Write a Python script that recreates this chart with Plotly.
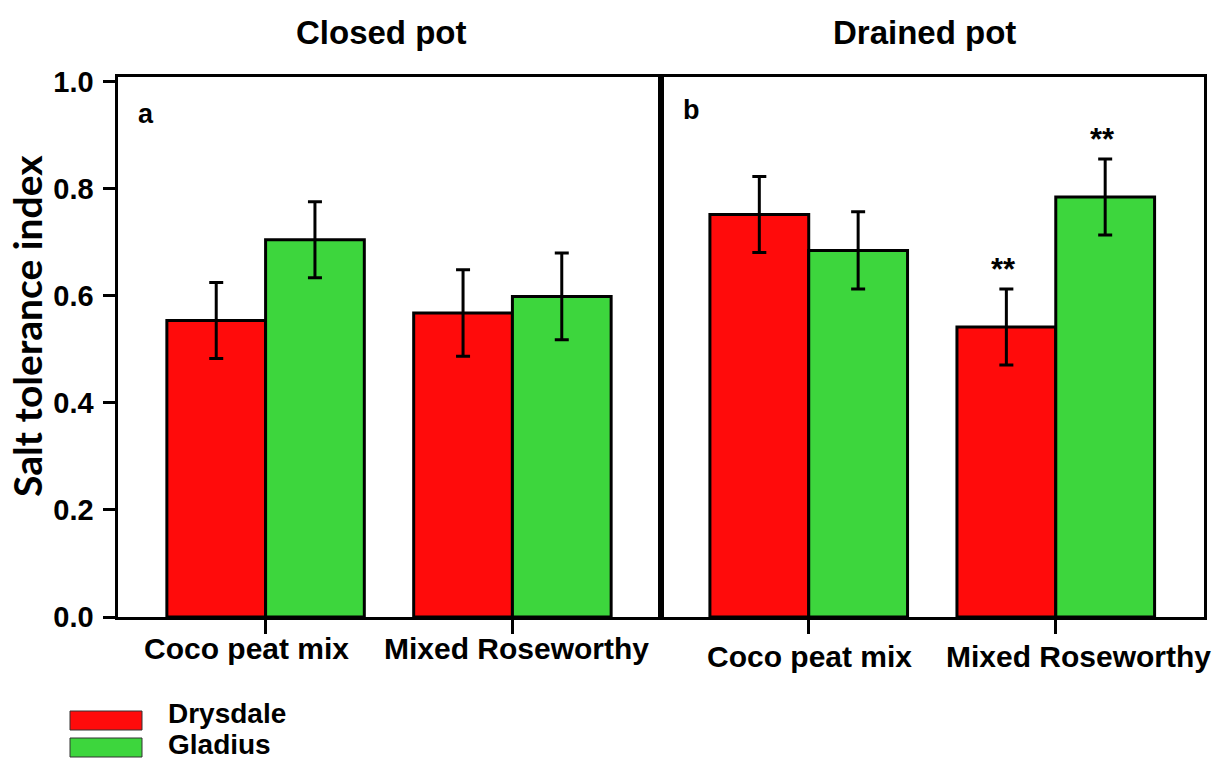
import plotly.graph_objects as go
from plotly.subplots import make_subplots

# Salt tolerance index per soil mix, wheat cultivar and pot type (mean ± SE)
categories = ["Coco peat mix", "Mixed Roseworthy"]
cultivars = ["Drysdale", "Gladius"]
colors = {"Drysdale": "#FF0B0B", "Gladius": "#3DD63D"}

closed_drysdale = [0.554, 0.568]
closed_drysdale_err = [0.071, 0.081]
closed_gladius = [0.705, 0.599]
closed_gladius_err = [0.071, 0.081]

drained_drysdale = [0.752, 0.542]
drained_drysdale_err = [0.071, 0.071]
drained_gladius = [0.685, 0.785]
drained_gladius_err = [0.072, 0.071]

drained_sig_drysdale = ["", "**"]
drained_sig_gladius = ["", "**"]

panel_titles = ["Closed pot", "Drained pot"]
panel_letters = ["a", "b"]
y_ticks = [0.0, 0.2, 0.4, 0.6, 0.8, 1.0]

W, H = 1214, 760
FONT = "Liberation Sans, Arial, sans-serif"


def px_x(p):
    return p / W


def px_y(p):
    return 1 - p / H


fig = make_subplots(rows=1, cols=2, shared_yaxes=True, horizontal_spacing=0)

panels = [
    (1, [(closed_drysdale, closed_drysdale_err), (closed_gladius, closed_gladius_err)]),
    (2, [(drained_drysdale, drained_drysdale_err), (drained_gladius, drained_gladius_err)]),
]
for col, series in panels:
    for name, (vals, errs) in zip(cultivars, series):
        fig.add_trace(
            go.Bar(
                x=categories,
                y=vals,
                name=name,
                showlegend=False,
                marker=dict(color=colors[name], line=dict(color="black", width=3)),
                error_y=dict(type="data", array=errs, visible=True,
                             color="black", thickness=3, width=7),
            ),
            row=1, col=col,
        )

fig.update_layout(
    width=W, height=H,
    barmode="group", bargap=0.2, bargroupgap=0,
    plot_bgcolor="white", paper_bgcolor="white",
    margin=dict(l=0, r=0, t=0, b=0),
    font=dict(family=FONT, color="black"),
)

axis_common = dict(
    showline=True, linewidth=3, linecolor="black", mirror=True,
    showgrid=False, zeroline=False,
)
fig.update_xaxes(
    type="category", range=[-0.6, 1.6],
    ticks="outside", ticklen=14, tickwidth=3, tickcolor="black",
    showticklabels=False,
    automargin=False,
    **axis_common,
)
fig.update_layout(
    xaxis=dict(domain=[px_x(117.5), px_x(660.5)]),
    xaxis2=dict(domain=[px_x(660.5), px_x(1204)]),
)
fig.update_yaxes(
    range=[0, 1.009], domain=[px_y(617), px_y(77)],
    tickvals=y_ticks, tickformat=".1f",
    automargin=False,
    **axis_common,
)
fig.update_yaxes(
    ticks="outside", ticklen=12, tickwidth=3, tickcolor="black",
    tickfont=dict(family=FONT, size=29, weight="bold", color="black"),
    ticklabelstandoff=3,
    row=1, col=1,
)
fig.update_yaxes(ticks="", showticklabels=False, row=1, col=2)

annotations = []

# category labels under each panel (nudged sideways per label)
label_font = dict(family=FONT, size=30, weight="bold", color="black")
for xref, shifts, ly in [("x", [-19, 4], 648), ("x2", [1, 23], 656)]:
    for i, (cat, dx) in enumerate(zip(categories, shifts)):
        annotations.append(dict(
            x=i, y=px_y(ly), xref=xref, yref="paper", text=cat,
            showarrow=False, xanchor="center", yanchor="middle", xshift=dx,
            font=label_font,
        ))

# significance markers above the drained-pot bars
offsets = {"Drysdale": -0.2, "Gladius": 0.2}
for name, vals, errs, sig in [
    ("Drysdale", drained_drysdale, drained_drysdale_err, drained_sig_drysdale),
    ("Gladius", drained_gladius, drained_gladius_err, drained_sig_gladius),
]:
    for i, s in enumerate(sig):
        if s:
            annotations.append(dict(
                x=i + offsets[name], y=vals[i] + errs[i], xref="x2", yref="y2",
                text=s, showarrow=False, yanchor="bottom", yshift=0, xshift=-3,
                font=dict(family=FONT, size=31, weight="bold", color="black"),
            ))

# panel titles and letters
for title, cx in zip(panel_titles, [381, 924]):
    annotations.append(dict(
        x=px_x(cx), y=px_y(33), xref="paper", yref="paper", text=title,
        showarrow=False, xanchor="center", yanchor="middle",
        font=dict(family=FONT, size=33, weight="bold", color="black"),
    ))
for letter, lx, ly in zip(panel_letters, [146, 691], [114, 110]):
    annotations.append(dict(
        x=px_x(lx), y=px_y(ly), xref="paper", yref="paper", text=letter,
        showarrow=False, xanchor="center", yanchor="middle",
        font=dict(family=FONT, size=27, weight="bold", color="black"),
    ))

# y-axis title
annotations.append(dict(
    x=px_x(27), y=px_y(326), xref="paper", yref="paper", text="Salt tolerance index",
    showarrow=False, textangle=-90, xanchor="center", yanchor="middle",
    font=dict(family="Lato, Open Sans, sans-serif", size=39, weight="bold", color="black"),
))

# legend drawn as swatches with labels
shapes = []
for name, (top, bottom), ty in zip(cultivars, [(711, 730), (738, 757)], [713, 744]):
    shapes.append(dict(
        type="rect", xref="paper", yref="paper",
        x0=px_x(70), x1=px_x(142), y0=px_y(bottom), y1=px_y(top),
        fillcolor=colors[name], line=dict(color="#333333", width=1),
    ))
    annotations.append(dict(
        x=px_x(166), y=px_y(ty), xref="paper", yref="paper", text=name,
        showarrow=False, xanchor="left", yanchor="middle",
        font=dict(family=FONT, size=28, weight="bold", color="black"),
    ))

fig.update_layout(annotations=annotations, shapes=shapes)

fig.write_html("out.html")
